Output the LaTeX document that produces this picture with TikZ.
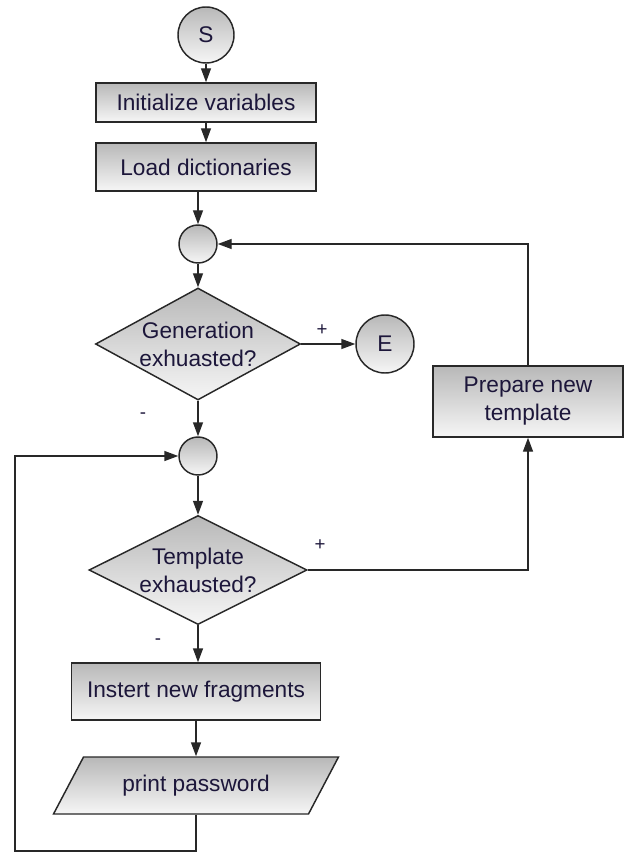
\documentclass[tikz,border=0pt]{standalone}
\usepackage{fontspec}
\setmainfont{Liberation Sans}
\usetikzlibrary{arrows.meta,positioning,shapes.geometric}
\definecolor{shadetop}{RGB}{184,184,184}
\definecolor{shadebot}{RGB}{246,246,246}
\definecolor{inkline}{RGB}{40,40,40}
\definecolor{inktext}{RGB}{28,22,58}

\begin{document}
\begin{tikzpicture}[
    x=0.75pt, y=-0.75pt,
    shaded/.style={draw=inkline, line width=1.1pt, top color=shadetop, bottom color=shadebot,
                   text=inktext, font=\fontsize{17}{21}\selectfont, align=center},
    terminal/.style={shaded, circle, inner sep=0pt},
    junction/.style={shaded, circle, minimum size=28.5pt, inner sep=0pt},
    process/.style={shaded, rectangle, minimum width=165pt},
    decision/.style={shaded, diamond, inner sep=0pt, shape aspect=1.83},
    output/.style={shaded, trapezium, trapezium left angle=45, trapezium right angle=135,
                   trapezium stretches body, minimum width=213.75pt, minimum height=42.75pt},
    sign/.style={font=\fontsize{14}{16}\selectfont, text=inktext, inner sep=0pt},
    ->, >={Triangle[length=10.5pt,width=7.5pt]}, line width=1.1pt, draw=inkline
]
    \useasboundingbox (0,0) rectangle (624,852);

    \node[terminal, minimum size=42pt] (start) at (206,35) {S};
    \node[process, minimum height=29.25pt] (init) at (206,102.5) {Initialize variables};
    \node[process, minimum height=36pt] (load) at (206,167) {Load dictionaries};
    \node[junction] (join1) at (198,244) {};
    \node[decision, minimum width=153.75pt, minimum height=84pt] (genex) at (198,344) {Generation\\exhuasted?};
    \node[terminal, minimum size=43.5pt] (stop) at (385,344) {E};
    \node[junction] (join2) at (198,456) {};
    \node[decision, minimum width=163.5pt, minimum height=81.75pt] (tmplex) at (198,570) {Template\\exhausted?};
    \node[process, minimum width=142.5pt, minimum height=53.25pt] (prep) at (528,401.5) {Prepare new\\template};
    \node[process, minimum width=186.75pt, minimum height=42.75pt] (insert) at (196,691.5) {Instert new fragments};
    \node[output] (print) at (196,785.5) {print password};
    \coordinate (loopcorner) at (15,851);

    \draw (start) -- (init);
    \draw (init) -- (load);
    \draw (load.south -| join1) -- (join1);
    \draw (join1) -- (genex);
    \draw (genex) -- (stop);
    \draw (genex) -- (join2);
    \draw (join2) -- (tmplex);
    \draw (tmplex.east) -| (prep.south);
    \draw (prep.north) |- (join1.east);
    \draw (tmplex.south) -- (tmplex.south |- insert.north);
    \draw (insert.south -| print.south) -- (print.north);
    \draw (print.south) |- (loopcorner) |- (join2.west);

    \node[sign] (genyes) at (322,330) {+};
    \node[sign] (genno) at (143,416) {-};
    \node[sign] (tmplyes) at (320,545) {+};
    \node[sign] (tmplno) at (158,642) {-};
\end{tikzpicture}
\end{document}
